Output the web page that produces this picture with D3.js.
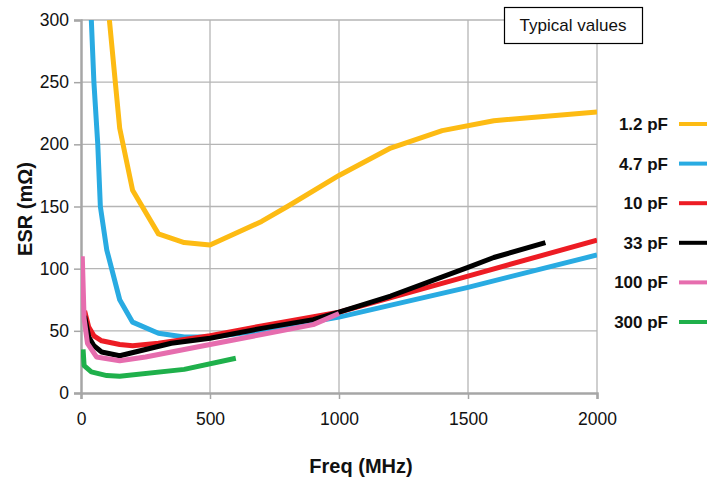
<!DOCTYPE html>
<html>
<head>
<meta charset="utf-8">
<script src="https://cdn.jsdelivr.net/npm/d3@7"></script>
<style>
  body { margin: 0; background: #fff; }
  svg { display: block; font-family: "Liberation Sans", Arial, sans-serif; }
</style>
</head>
<body>
<div id="chart"></div>
<script>
// ESR vs frequency, one array per capacitor value: [MHz, mOhm]
const esr_1p2 = [[110,300],[150,213],[200,163],[300,128],[400,121],[500,119],[700,138],[800,150],[1000,175],[1200,197],[1400,211],[1600,219],[2000,226]];
const esr_4p7 = [[40,300],[50,250],[65,200],[75,150],[100,115],[150,75],[200,57],[300,48],[400,45],[500,45],[700,50],[1000,61],[1500,85],[2000,111]];
const esr_10 = [[14,66],[30,53],[50,46],[80,42],[150,39],[200,38],[300,40],[500,46],[700,54],[1000,65],[1500,94],[2000,123]];
const esr_33 = [[14,62],[30,45],[50,38],[80,33],[150,30],[250,35],[350,40],[500,44],[700,52],[900,59],[1000,65],[1200,78],[1500,101],[1600,109],[1800,121]];
const esr_100 = [[5,110],[12,60],[25,40],[60,29],[150,26],[250,29],[450,37],[700,47],[900,55],[1000,64]];
const esr_300 = [[8,35],[12,22],[40,17],[100,14],[150,13.5],[400,19],[600,28]];

const seriesNames = ["1.2 pF", "4.7 pF", "10 pF", "33 pF", "100 pF", "300 pF"];
const seriesData = [esr_1p2, esr_4p7, esr_10, esr_33, esr_100, esr_300];
const colors = ["#fdbb13", "#29abe2", "#ed1c24", "#000000", "#e66dae", "#1fb04b"];

const xTicks = [0, 500, 1000, 1500, 2000];
const yTicks = [0, 50, 100, 150, 200, 250, 300];

const width = 720, height = 479;
const margin = ({top: 20, right: 123, bottom: 86, left: 81});

const svg = d3.select("#chart").append("svg")
  .attr("width", width)
  .attr("height", height);

const x = d3.scaleLinear()
  .domain([0, 2000])
  .range([margin.left, width - margin.right]);
const y = d3.scaleLinear()
  .domain([0, 300])
  .range([height - margin.bottom, margin.top]);

// grid
svg.append("g")
  .attr("stroke", "#b5b5b5")
  .attr("stroke-width", 1.3)
  .call(g => g.selectAll(".gx").data(xTicks.slice(1)).join("line")
    .attr("x1", d => x(d)).attr("x2", d => x(d))
    .attr("y1", y(0)).attr("y2", y(300)))
  .call(g => g.selectAll(".gy").data(yTicks.slice(1)).join("line")
    .attr("x1", x(0)).attr("x2", x(2000))
    .attr("y1", d => y(d)).attr("y2", d => y(d)));

const xAxis = g => g
  .attr("transform", `translate(0,${y(0)})`)
  .call(d3.axisBottom(x).tickValues(xTicks).tickFormat(d3.format("d")).tickSize(6).tickPadding(14))
  .call(g => g.select(".domain").attr("stroke", "#a6a6a6").attr("stroke-width", 2.5))
  .call(g => g.selectAll(".tick line").attr("stroke", "#a6a6a6").attr("stroke-width", 1.5))
  .call(g => g.selectAll(".tick text")
    .attr("font-size", 17.5)
    .attr("fill", "#111"));

const yAxis = g => g
  .attr("transform", `translate(${x(0)},0)`)
  .call(d3.axisLeft(y).tickValues(yTicks).tickFormat(d3.format("d")).tickSize(7).tickPadding(5))
  .call(g => g.select(".domain").attr("stroke", "#a6a6a6").attr("stroke-width", 2.5))
  .call(g => g.selectAll(".tick line").attr("stroke", "#a6a6a6").attr("stroke-width", 1.5))
  .call(g => g.selectAll(".tick text")
    .attr("font-size", 17.5)
    .attr("fill", "#111"));

svg.append("g").call(xAxis);
svg.append("g").call(yAxis);

svg.append("defs").append("clipPath")
  .attr("id", "plot")
  .append("rect")
  .attr("x", x(0)).attr("y", y(300))
  .attr("width", x(2000) - x(0)).attr("height", y(0) - y(300));

const line = d3.line()
  .x(d => x(d[0]))
  .y(d => y(d[1]));

svg.append("g")
  .attr("clip-path", "url(#plot)")
  .attr("fill", "none")
  .attr("stroke-width", 5)
  .attr("stroke-linejoin", "round")
  .selectAll("path")
  .data(seriesData)
  .join("path")
    .attr("stroke", (d, i) => colors[i])
    .attr("d", line);

// legend
const legend = svg.append("g")
  .selectAll("g")
  .data(seriesNames)
  .join("g")
    .attr("transform", (d, i) => `translate(668,${124 + i * 39.6})`);
legend.append("text")
  .attr("text-anchor", "end")
  .attr("dy", "0.35em")
  .attr("font-size", 17)
  .attr("font-weight", 700)
  .attr("fill", "#111")
  .text(d => d);
legend.append("line")
  .attr("x1", 11).attr("x2", 39)
  .attr("stroke", (d, i) => colors[i])
  .attr("stroke-width", 4);

// "Typical values" box
svg.append("rect")
  .attr("x", 504.5).attr("y", 7.5)
  .attr("width", 138).attr("height", 36)
  .attr("fill", "#fff")
  .attr("stroke", "#000")
  .attr("stroke-width", 1.2);
svg.append("text")
  .attr("x", 573).attr("y", 31)
  .attr("text-anchor", "middle")
  .attr("font-size", 17)
  .attr("fill", "#111")
  .text("Typical values");

// axis titles
svg.append("text")
  .attr("x", 361).attr("y", 473)
  .attr("text-anchor", "middle")
  .attr("font-size", 20)
  .attr("font-weight", 700)
  .attr("fill", "#111")
  .text("Freq (MHz)");
svg.append("text")
  .attr("transform", "translate(32,209) rotate(-90)")
  .attr("text-anchor", "middle")
  .attr("font-size", 20)
  .attr("font-weight", 700)
  .attr("fill", "#111")
  .text("ESR (mΩ)");
</script>
</body>
</html>
